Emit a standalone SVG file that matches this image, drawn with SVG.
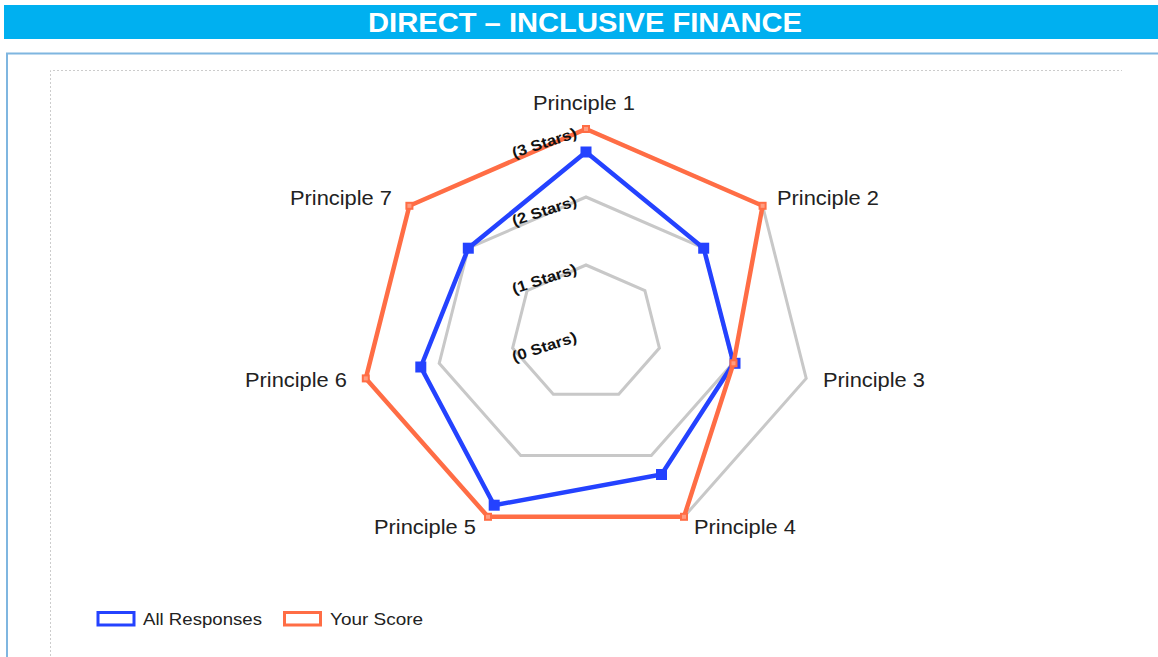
<svg xmlns="http://www.w3.org/2000/svg" width="1158" height="657" viewBox="0 0 1158 657">
<style>
.lbl{font-family:"Liberation Sans",Arial,sans-serif;font-size:20px;fill:#222}
.star{font-family:"Liberation Sans",Arial,sans-serif;font-size:15px;font-weight:bold;fill:#111}
.leg{font-family:"Liberation Sans",Arial,sans-serif;font-size:17px;fill:#222}
.ring{fill:none;stroke:#C8C8C8;stroke-width:3;stroke-linejoin:miter}
.blue{fill:none;stroke:#2442FF;stroke-width:4.5;stroke-linejoin:miter}
.orange{fill:none;stroke:#FF6D45;stroke-width:4.5;stroke-linejoin:miter}
.bm{fill:#2442FF}
.om{fill:#FF9C80;stroke:#FF6D45;stroke-width:2}
</style>
<rect width="1158" height="657" fill="#fff"/>
<g id="header">
<rect x="4" y="5" width="1154" height="34" fill="#00B0F0"/>
<text x="585" y="32" text-anchor="middle" font-family="'Liberation Sans',Arial,sans-serif" font-size="27" font-weight="bold" fill="#fff" textLength="434" lengthAdjust="spacingAndGlyphs">DIRECT – INCLUSIVE FINANCE</text>
</g>
<g id="panel">
<rect x="7" y="53.5" width="1170" height="640" fill="none" stroke="#7FB6E0" stroke-width="2"/>
<path d="M50.5 700 V70.5 H1122" fill="none" stroke="#CCCCCC" stroke-width="1" stroke-dasharray="2,2"/>
</g>
<g id="grid">
<polygon class="ring" points="586,265 644.9,290.6 659.4,348.1 618.7,394.3 553.3,394.3 512.6,348.1 527.1,290.6"/>
<polygon class="ring" points="586,197 703.7,248.2 732.8,363.3 651.3,455.5 520.7,455.5 439.2,363.3 468.3,248.2"/>
<polygon class="ring" points="586,129 762.6,205.8 806.2,378.4 684,516.8 488,516.8 365.8,378.4 409.4,205.8"/>
</g>
<g id="connectors">
<polygon id="all-responses" class="blue" points="586,152 703.7,248.2 733.5,363.3 661.5,474.5 494.2,505.2 420.8,367 468.3,248.2"/>
<g id="all-responses-markers">
<rect class="bm" x="580.5" y="146.5" width="11" height="11"/>
<rect class="bm" x="698.2" y="242.7" width="11" height="11"/>
<rect class="bm" x="729.5" y="357.8" width="11" height="11"/>
<rect class="bm" x="656" y="469" width="11" height="11"/>
<rect class="bm" x="488.7" y="499.7" width="11" height="11"/>
<rect class="bm" x="415.3" y="361.5" width="11" height="11"/>
<rect class="bm" x="462.8" y="242.7" width="11" height="11"/>
</g>
<polygon id="your-score" class="orange" points="586,129 762.6,205.8 733.5,363.3 684,516.8 488,516.8 365.8,378.4 409.4,205.8"/>
<g id="your-score-markers">
<rect class="om" x="583" y="126" width="6" height="6"/>
<rect class="om" x="759.6" y="202.8" width="6" height="6"/>
<rect class="om" x="730.5" y="360.3" width="6" height="6"/>
<rect class="om" x="681" y="513.8" width="6" height="6"/>
<rect class="om" x="485" y="513.8" width="6" height="6"/>
<rect class="om" x="362.8" y="375.4" width="6" height="6"/>
<rect class="om" x="406.4" y="202.8" width="6" height="6"/>
</g>
</g>
<g id="star-labels">
<text class="star" transform="translate(514,362) rotate(-18)" textLength="67" lengthAdjust="spacingAndGlyphs">(0 Stars)</text>
<text class="star" transform="translate(514,294) rotate(-18)" textLength="67" lengthAdjust="spacingAndGlyphs">(1 Stars)</text>
<text class="star" transform="translate(514,226) rotate(-18)" textLength="67" lengthAdjust="spacingAndGlyphs">(2 Stars)</text>
<text class="star" transform="translate(514,158) rotate(-18)" textLength="67" lengthAdjust="spacingAndGlyphs">(3 Stars)</text>
</g>
<g id="principle-1"><text class="lbl" x="533" y="110" textLength="102" lengthAdjust="spacingAndGlyphs">Principle 1</text></g>
<g id="principle-2"><text class="lbl" x="777" y="205" textLength="102" lengthAdjust="spacingAndGlyphs">Principle 2</text></g>
<g id="principle-3"><text class="lbl" x="823" y="387" textLength="102" lengthAdjust="spacingAndGlyphs">Principle 3</text></g>
<g id="principle-4"><text class="lbl" x="694" y="534" textLength="102" lengthAdjust="spacingAndGlyphs">Principle 4</text></g>
<g id="principle-5"><text class="lbl" x="374" y="534" textLength="102" lengthAdjust="spacingAndGlyphs">Principle 5</text></g>
<g id="principle-6"><text class="lbl" x="245" y="387" textLength="102" lengthAdjust="spacingAndGlyphs">Principle 6</text></g>
<g id="principle-7"><text class="lbl" x="290" y="205" textLength="102" lengthAdjust="spacingAndGlyphs">Principle 7</text></g>
<g id="legend">
<rect x="98" y="612.5" width="36" height="12.5" fill="#fff" stroke="#2442FF" stroke-width="3"/>
<text class="leg" x="143" y="625" textLength="119" lengthAdjust="spacingAndGlyphs">All Responses</text>
<rect x="284.5" y="612.5" width="36" height="12.5" fill="#fff" stroke="#FF6D45" stroke-width="3"/>
<text class="leg" x="330" y="625" textLength="93" lengthAdjust="spacingAndGlyphs">Your Score</text>
</g>
</svg>
